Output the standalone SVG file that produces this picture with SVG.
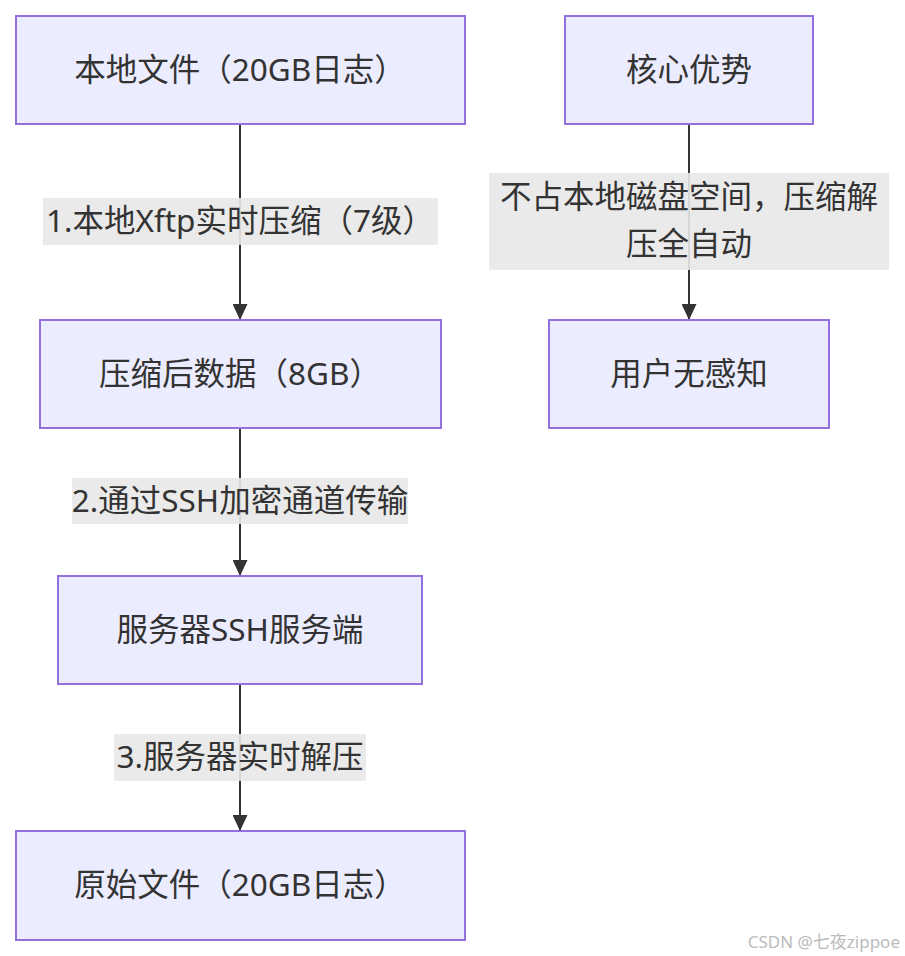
<svg xmlns="http://www.w3.org/2000/svg" width="905" height="956" viewBox="0 0 905 956">
<defs>
<style>
.node rect{fill:#ECECFF;stroke:#9370DB;stroke-width:2}
text{font-family:"Noto Sans","Noto Sans CJK SC",sans-serif;font-size:31.5px;fill:#333;text-anchor:middle;dominant-baseline:central}
.lbl{fill:#e8e8e8;opacity:0.9}
.edge{stroke:#333;stroke-width:2;fill:none}
.wm{font-size:17px;fill:#bbb;text-anchor:end}
</style>
<marker id="arr" viewBox="0 0 16 15" refX="16" refY="7.5" markerWidth="16" markerHeight="15" markerUnits="userSpaceOnUse" orient="auto">
<path d="M0,0 L16,7.5 L0,15 Z" fill="#333"/>
</marker>
</defs>
<rect width="905" height="956" fill="#fff"/>
<g id="connectors">
<path class="edge" d="M240,124 V320" marker-end="url(#arr)"/>
<path class="edge" d="M240,428 V576" marker-end="url(#arr)"/>
<path class="edge" d="M240,684 V831" marker-end="url(#arr)"/>
<path class="edge" d="M689,124 V320" marker-end="url(#arr)"/>
<g id="label1"><rect class="lbl" x="43" y="198" width="395" height="47"/><text x="240" y="219">1.本地Xftp实时压缩（7级）</text></g>
<g id="label2"><rect class="lbl" x="72" y="478" width="336" height="46"/><text x="240" y="499">2.通过SSH加密通道传输</text></g>
<g id="label3"><rect class="lbl" x="114" y="734" width="252" height="47"/><text x="240" y="755">3.服务器实时解压</text></g>
<g id="label4"><rect class="lbl" x="489" y="173" width="400" height="97"/><text x="689" y="195">不占本地磁盘空间，压缩解</text><text x="689" y="242">压全自动</text></g>
</g>
<g id="nodeA" class="node"><rect x="16" y="16" width="449" height="108"/><text x="240" y="68">本地文件（20GB日志）</text></g>
<g id="nodeB" class="node"><rect x="40" y="320" width="401" height="108"/><text x="240" y="372">压缩后数据（8GB）</text></g>
<g id="nodeC" class="node"><rect x="58" y="576" width="364" height="108"/><text x="240" y="628">服务器SSH服务端</text></g>
<g id="nodeD" class="node"><rect x="16" y="831" width="449" height="109"/><text x="240" y="883">原始文件（20GB日志）</text></g>
<g id="nodeE" class="node"><rect x="565" y="16" width="248" height="108"/><text x="689" y="68">核心优势</text></g>
<g id="nodeF" class="node"><rect x="549" y="320" width="280" height="108"/><text x="689" y="372">用户无感知</text></g>
<text class="wm" x="900" y="941">CSDN @七夜zippoe</text>
</svg>
